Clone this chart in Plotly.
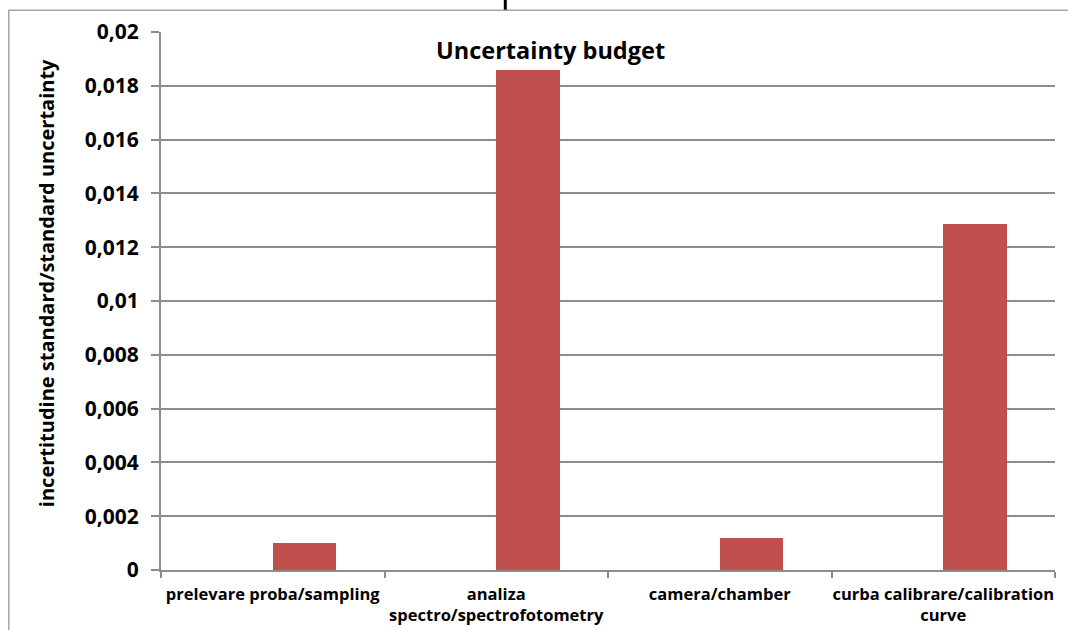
import plotly.graph_objects as go

categories = ["prelevare proba/sampling",
              "analiza<br>spectro/spectrofotometry",
              "camera/chamber",
              "curba calibrare/calibration<br>curve"]
values = [0.00102, 0.0186, 0.00119, 0.01288]
ytick_vals = [0, 0.002, 0.004, 0.006, 0.008, 0.01, 0.012, 0.014, 0.016, 0.018, 0.02]
ytick_text = ["0", "0,002", "0,004", "0,006", "0,008", "0,01", "0,012", "0,014", "0,016", "0,018", "0,02"]
title_text = "Uncertainty budget"
ytitle_text = "incertitudine standard/standard uncertainty"

W, H = 1068, 630
L, R, T, B = 160.7, 1054.7, 32.3, 570.0
pw, ph = R - L, B - T

def px(x):
    return (x - L) / pw

def py(y):
    return (B - y) / ph

FONT = "Open Sans"
GRID = "#8c8c8c"

fig = go.Figure()
fig.add_trace(go.Bar(
    x=categories, y=values,
    width=0.284, offset=0.0,
    marker=dict(color="#C0504D", line=dict(width=0)),
    hoverinfo="x+y",
))

fig.update_layout(
    width=W, height=H,
    margin=dict(l=L, r=W - R, t=T, b=H - B, pad=0, autoexpand=False),
    paper_bgcolor="white", plot_bgcolor="white",
    showlegend=False,
    font=dict(family=FONT, color="black"),
    bargap=0,
)
fig.update_xaxes(
    type="category",
    showline=True, linecolor=GRID, linewidth=2,
    ticks="outside", tickson="boundaries", ticklen=6, tickcolor=GRID, tickwidth=2,
    showgrid=False,
    tickfont=dict(family=FONT, size=16.5, color="black", weight="bold"),
    tickangle=0, automargin=False,
    ticklabelstandoff=8,
    range=[-0.5, 3.5],
)
fig.update_yaxes(
    range=[0, 0.02],
    tickvals=ytick_vals, ticktext=ytick_text,
    showline=True, linecolor=GRID, linewidth=2,
    ticks="outside", ticklen=8, tickcolor=GRID, tickwidth=2,
    showgrid=True, gridcolor=GRID, gridwidth=1.5,
    zeroline=False, automargin=False,
    tickfont=dict(family=FONT, size=21, color="black", weight="bold"),
    ticklabelstandoff=8,
)

fig.add_annotation(
    text=title_text, xref="paper", yref="paper",
    x=px(550.5), y=py(50), xanchor="center", yanchor="middle",
    showarrow=False,
    font=dict(family=FONT, size=23.5, color="black", weight="bold"),
)
fig.add_annotation(
    text=ytitle_text, xref="paper", yref="paper",
    x=px(47), y=py(283), xanchor="center", yanchor="middle",
    textangle=-90, showarrow=False,
    font=dict(family=FONT, size=20, color="black", weight="bold"),
)

# outer chart border (only top and left visible)
fig.add_shape(type="rect", xref="paper", yref="paper",
              x0=px(8.5), y0=py(660), x1=px(1090), y1=py(10.5),
              line=dict(color="#a6a6a6", width=1.5), fillcolor="rgba(0,0,0,0)", layer="below")
# small black mark at the top edge
fig.add_shape(type="line", xref="paper", yref="paper",
              x0=px(505), y0=py(-2), x1=px(505), y1=py(10),
              line=dict(color="black", width=3))

fig.write_html("out.html")
